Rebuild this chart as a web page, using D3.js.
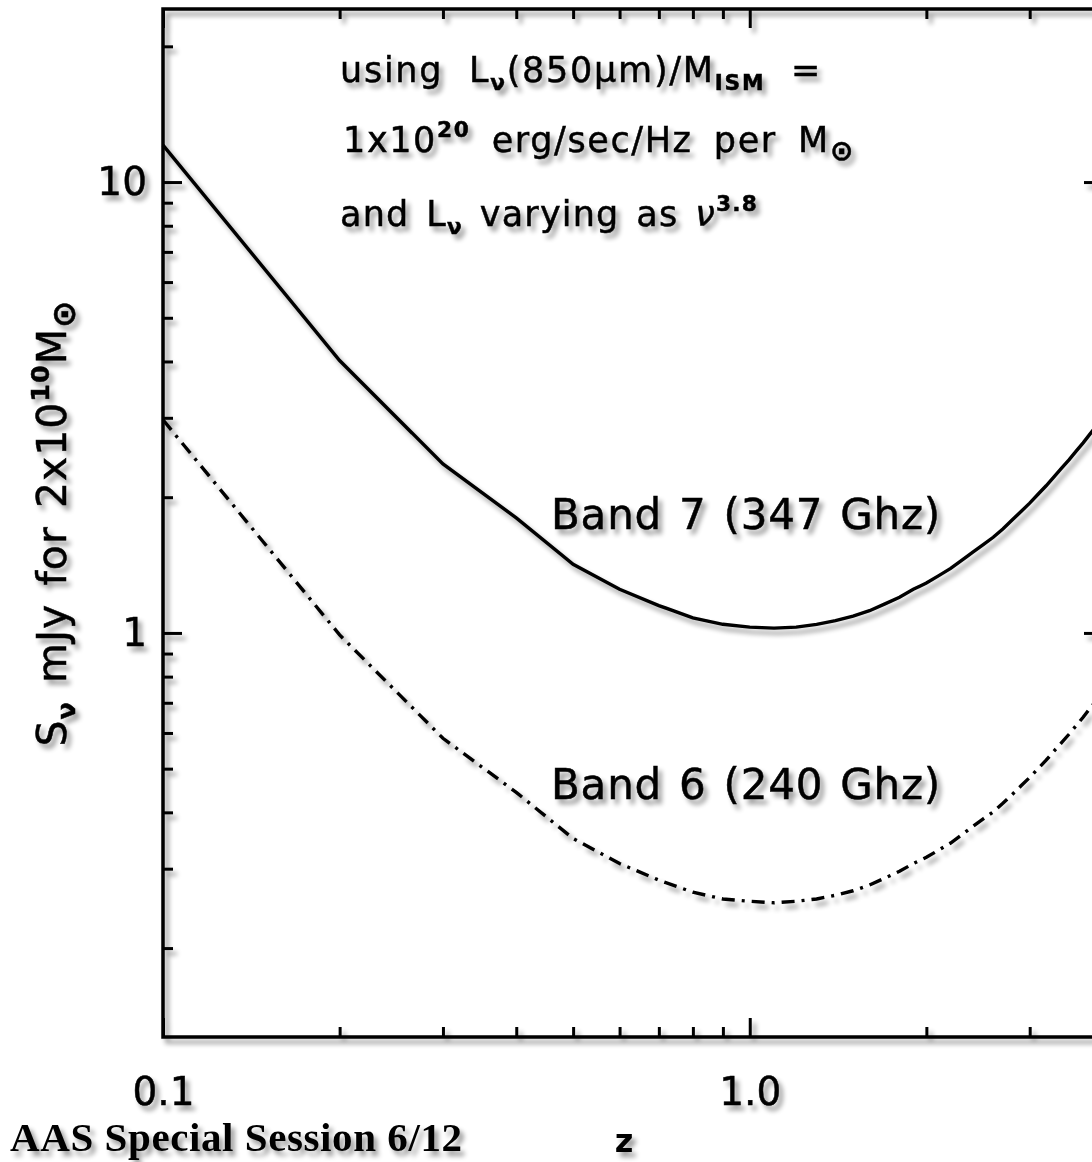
<!DOCTYPE html>
<html>
<head>
<meta charset="utf-8">
<script src="https://cdn.jsdelivr.net/npm/d3@7"></script>
<style>
  body { margin: 0; background: #fff; }
  svg { display: block; }
</style>
</head>
<body>
<svg></svg>
<script>
  // Chart size (same as the window).
  const width = 1092;
  const height = 1162;

  // Redshift grid and the flux of a 2x10^10 Msun ISM in each band (mJy).
  const zGrid = [0.1, 0.2, 0.3, 0.4, 0.5, 0.6, 0.7, 0.8, 0.9, 1.0,
                 1.1, 1.2, 1.3, 1.4, 1.5, 1.6, 1.7, 1.8, 1.9, 2.0,
                 2.1, 2.2, 2.3, 2.4, 2.5, 2.6, 2.7, 2.8, 2.9, 3.0,
                 3.1, 3.2, 3.3, 3.4, 3.5, 3.6, 3.7, 3.8, 3.9, 4.0];
  const band7 = [12.08, 4.02, 2.37, 1.80, 1.42, 1.25, 1.15, 1.08, 1.045, 1.03,
                 1.025, 1.03, 1.045, 1.065, 1.09, 1.12, 1.16, 1.20, 1.25, 1.29,
                 1.34, 1.39, 1.45, 1.51, 1.57, 1.63, 1.70, 1.78, 1.86, 1.94,
                 2.03, 2.12, 2.22, 2.32, 2.42, 2.53, 2.64, 2.76, 2.88, 3.00];
  const band6 = [2.97, 0.99, 0.584, 0.443, 0.350, 0.308, 0.283, 0.266, 0.257, 0.254,
                 0.252, 0.254, 0.257, 0.262, 0.268, 0.276, 0.286, 0.296, 0.308, 0.318,
                 0.330, 0.342, 0.357, 0.372, 0.387, 0.401, 0.419, 0.438, 0.458, 0.478,
                 0.500, 0.522, 0.547, 0.571, 0.596, 0.623, 0.650, 0.680, 0.709, 0.739];

  // Tick values and labels.
  const xMajor = [0.1, 1];
  const xMinor = [0.2, 0.3, 0.4, 0.5, 0.6, 0.7, 0.8, 0.9, 2, 3, 4];
  const xTickLabels = ["0.1", "1.0"];
  const yMajor = [1, 10];
  const yMinor = [0.2, 0.3, 0.4, 0.5, 0.6, 0.7, 0.8, 0.9, 2, 3, 4, 5, 6, 7, 8, 9, 20];
  const yTickLabels = ["1", "10"];

  const font = "'DejaVu Sans', sans-serif";

  // Plot frame (right edge falls just outside the window).
  const x0 = 163, x1 = 1103, y0 = 9, y1 = 1037;

  const x = d3.scaleLog().domain([0.1, 4]).range([x0, x1]);
  const y = d3.scaleLog().domain([0.127, 24.2]).range([y1, y0]);

  const svg = d3.select("svg")
      .attr("width", width)
      .attr("height", height)
      .attr("viewBox", [0, 0, width, height]);

  // Soft grey drop shadow under everything.
  const defs = svg.append("defs");
  const f = defs.append("filter")
      .attr("id", "shadow")
      .attr("filterUnits", "userSpaceOnUse")
      .attr("x", -20).attr("y", -20).attr("width", width + 40).attr("height", height + 40);
  f.append("feGaussianBlur").attr("in", "SourceAlpha").attr("stdDeviation", 2.5);
  f.append("feOffset").attr("dx", 4).attr("dy", 5).attr("result", "off");
  f.append("feComponentTransfer").append("feFuncA").attr("type", "linear").attr("slope", 0.4);
  const merge = f.append("feMerge");
  merge.append("feMergeNode");
  merge.append("feMergeNode").attr("in", "SourceGraphic");

  const g = svg.append("g").attr("filter", "url(#shadow)");

  // Frame.
  g.append("rect")
      .attr("x", x0).attr("y", y0)
      .attr("width", x1 - x0).attr("height", y1 - y0)
      .attr("fill", "none").attr("stroke", "#000").attr("stroke-width", 3.5);

  // Inward ticks on all four sides.
  function ticks(axis, values, size, transform) {
    g.append("g")
        .attr("transform", transform)
        .call(axis.tickValues(values).tickSize(size).tickFormat(""))
        .call(s => s.select(".domain").remove())
        .call(s => s.selectAll("line").attr("stroke", "#000").attr("stroke-width", 3));
  }
  ticks(d3.axisTop(x), xMajor, 19, `translate(0,${y1})`);
  ticks(d3.axisTop(x), xMinor, 10, `translate(0,${y1})`);
  ticks(d3.axisBottom(x), xMajor, 19, `translate(0,${y0})`);
  ticks(d3.axisBottom(x), xMinor, 10, `translate(0,${y0})`);
  ticks(d3.axisRight(y), yMajor, 19, `translate(${x0},0)`);
  ticks(d3.axisRight(y), yMinor, 10, `translate(${x0},0)`);
  ticks(d3.axisLeft(y), yMajor, 19, `translate(${x1},0)`);
  ticks(d3.axisLeft(y), yMinor, 10, `translate(${x1},0)`);

  // Tick labels.
  const labelStyle = s => s.selectAll("text")
      .attr("font-family", font).attr("font-size", 39).attr("fill", "#000")
      .attr("stroke", "#000").attr("stroke-width", 0.5);

  g.append("g")
      .attr("transform", `translate(0,${y1})`)
      .call(d3.axisBottom(x).tickValues(xMajor).tickSize(0).tickPadding(40)
        .tickFormat((d, i) => xTickLabels[i]))
      .call(s => s.select(".domain").remove())
      .call(labelStyle);

  g.append("g")
      .attr("transform", `translate(${x0},0)`)
      .call(d3.axisLeft(y).tickValues(yMajor).tickSize(0).tickPadding(16)
        .tickFormat((d, i) => yTickLabels[i]))
      .call(s => s.select(".domain").remove())
      .call(labelStyle);

  // Curves.
  const line = d3.line()
      .x(d => x(d[0]))
      .y(d => y(d[1]));

  g.append("path")
      .datum(d3.zip(zGrid, band7))
      .attr("fill", "none").attr("stroke", "#000").attr("stroke-width", 3.4)
      .attr("d", line);

  g.append("path")
      .datum(d3.zip(zGrid, band6))
      .attr("fill", "none").attr("stroke", "#000").attr("stroke-width", 3.4)
      .attr("stroke-dasharray", "13 7 3 7")
      .attr("d", line);

  // Text with sub/superscripts; widens letters and word gaps to a target width.
  function rich(parent, px, py, size, parts, target, attrs = {}) {
    const t = parent.append("text")
        .attr("x", px).attr("y", py)
        .attr("font-family", font).attr("font-size", size).attr("fill", "#000")
        .attr("stroke", "#000").attr("stroke-width", 0.5);
    for (const k in attrs) t.attr(k, attrs[k]);
    let prev = 0;
    for (const [str, kind, extra] of parts) {
      const shift = kind === "sub" ? size * 0.22 : kind === "sup" ? -size * 0.42 : 0;
      const ts = t.append("tspan").attr("dy", shift - prev).text(str);
      if (kind === "sub" || kind === "sup") ts.attr("font-size", size * (str === "⊙" ? 0.8 : 0.62)).attr("font-weight", "bold");
      if (extra) ts.attr("font-style", extra);
      prev = shift;
    }
    if (target) {
      const w = t.node().getBBox().width;
      const str = t.text();
      const n = (str.match(/ /g) || []).length;
      const extra = target - w;
      const ls = extra * 0.6 / str.length;
      t.attr("letter-spacing", ls);
      const w2 = t.node().getBBox().width;
      if (n) t.attr("word-spacing", (target - w2) / n);
    }
    return t;
  }

  // Assumption notes at top.
  rich(g, 340, 82, 35, [["using L"], ["ν", "sub"], ["(850μm)/M"], ["ISM", "sub"], [" ="]], 482);
  rich(g, 343, 152, 35, [["1x10"], ["20", "sup"], [" erg/sec/Hz per M"], ["⊙", "sub"]], 512);
  rich(g, 340, 226, 35, [["and L"], ["ν", "sub"], [" varying as "], ["ν", null, "italic"], ["3.8", "sup"]], 418);

  // Curve labels.
  rich(g, 551, 529, 42, [["Band 7 (347 Ghz)"]], 390);
  rich(g, 551, 799, 42, [["Band 6 (240 Ghz)"]], 390);

  // Axis titles.
  rich(g, 0, 0, 41, [["S"], ["ν", "sub"], [" mJy for 2x10"], ["10", "sup"], ["M"], ["⊙", "sub"]], 447,
    {"text-anchor": "middle", "transform": "translate(66,523) rotate(-90)"});

  g.append("text")
      .attr("x", 624).attr("y", 1152)
      .attr("text-anchor", "middle")
      .attr("font-family", font).attr("font-size", 32).attr("font-weight", "bold")
      .text("z");

  // Footer.
  g.append("text")
      .attr("x", 10).attr("y", 1151)
      .attr("font-family", "'Liberation Serif', serif").attr("font-size", 41).attr("font-weight", "bold")
      .attr("textLength", 452).attr("lengthAdjust", "spacing")
      .text("AAS Special Session 6/12");
</script>
</body>
</html>
